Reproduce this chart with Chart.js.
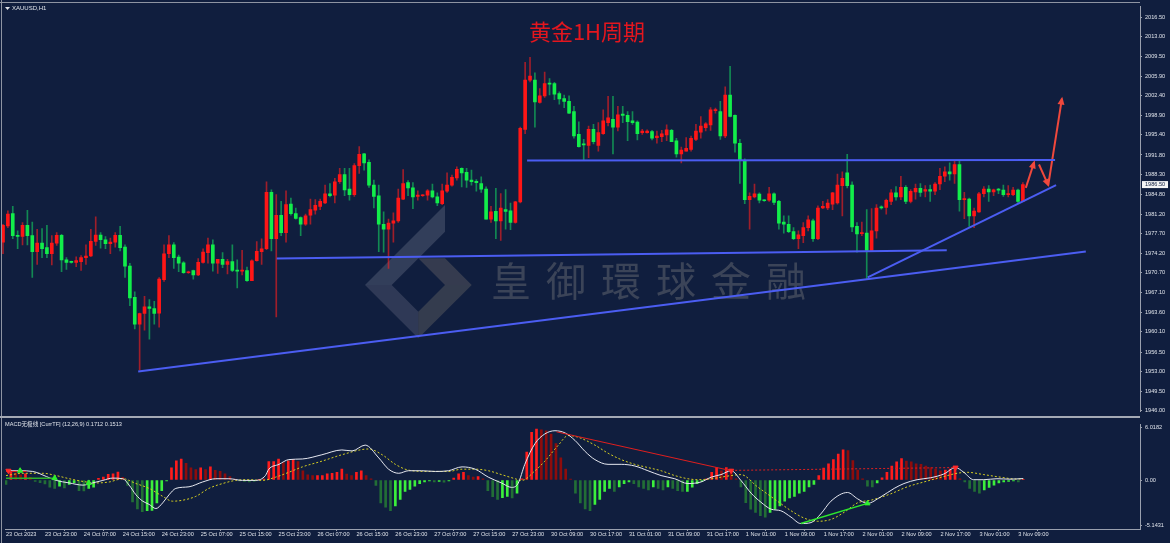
<!DOCTYPE html>
<html>
<head>
<meta charset="utf-8">
<script src="https://cdn.jsdelivr.net/npm/chart.js@4.4.1/dist/chart.umd.min.js"></script>
<style>
  html, body { margin: 0; padding: 0; background: #101e3e; }
  #wrap { position: relative; width: 1170px; height: 543px; overflow: hidden; background: #101e3e; }
  #price { position: absolute; left: 0; top: 0; }
  #macd { position: absolute; left: 0; top: 418px; }
</style>
</head>
<body>
<div id="wrap">
  <canvas id="price" width="1170" height="418"></canvas>
  <canvas id="macd" width="1170" height="125"></canvas>
</div>
<script>
window.addEventListener("load", init);

const BG = "#101e3e";
const AXIS = "#9aa0ae";
const TEXT = "#dfe3ea";
const FONT = '"Liberation Sans", Arial, "Noto Sans CJK SC", sans-serif';
const BLUE = "#4b5df2";
const ARROW_RED = "#f0483c";

//x range in bars (bar 0 sits at the left edge, empty space on the right)
const X_MIN = -0.205;
const X_MAX = 233.0;

//price axis as MT4 prints it
const priceTicks = [2016.50, 2013.00, 2009.50, 2005.90, 2002.40, 1998.90, 1995.40, 1991.80, 1988.30, 1984.80,
  1981.20, 1977.70, 1974.20, 1970.70, 1967.10, 1963.60, 1960.10, 1956.50, 1953.00, 1949.50, 1946.00];
const macdTicks = [6.0182, 0, -5.1431];

//time axis: a label every 8 hourly bars
const timeTickBars = [0, 8, 16, 24, 32, 40, 48, 56, 64, 72, 80, 88, 96, 104, 112, 120, 128, 136, 144, 152, 160, 168, 176, 184, 192, 200, 208];
const timeLabels = ["23 Oct 2023", "23 Oct 23:00", "24 Oct 07:00", "24 Oct 15:00", "24 Oct 23:00", "25 Oct 07:00",
  "25 Oct 15:00", "25 Oct 23:00", "26 Oct 07:00", "26 Oct 15:00", "26 Oct 23:00", "27 Oct 07:00", "27 Oct 15:00",
  "27 Oct 23:00", "30 Oct 09:00", "30 Oct 17:00", "31 Oct 01:00", "31 Oct 09:00", "31 Oct 17:00", "1 Nov 01:00",
  "1 Nov 09:00", "1 Nov 17:00", "2 Nov 01:00", "2 Nov 09:00", "2 Nov 17:00", "3 Nov 01:00", "3 Nov 09:00"];

//XAUUSD H1 candles
const opens = [
  1976.2, 1979.1, 1981.3, 1977.4, 1977.2, 1979.2, 1977.35, 1974.5, 1976.0, 1975.2,
  1974.1, 1976.0, 1977.4, 1973.0, 1972.7, 1972.55, 1972.7, 1973.4, 1973.7, 1976.3,
  1977.45, 1976.6, 1975.9, 1976.2, 1977.4, 1975.3, 1971.9, 1966.3, 1961.5, 1963.4,
  1964.6, 1964.3, 1963.45, 1969.45, 1974.1, 1975.7, 1973.5, 1972.5, 1970.7, 1971.1,
  1970.3, 1972.55, 1974.3, 1975.7, 1972.4, 1973.1, 1972.2, 1972.7, 1971.1, 1971.0,
  1971.1, 1969.3, 1972.85, 1974.5, 1975.0, 1985.1, 1976.8, 1981.0, 1977.9, 1983.0,
  1981.3, 1980.6, 1979.4, 1981.0, 1981.9, 1982.6, 1983.2, 1984.85, 1984.6, 1987.0,
  1988.3, 1985.7, 1984.7, 1989.9, 1992.0, 1990.5, 1986.4, 1984.5, 1979.4, 1978.5,
  1979.6, 1980.0, 1983.9, 1986.85, 1985.9, 1984.4, 1984.5, 1984.6, 1985.4, 1984.3,
  1983.1, 1985.3, 1986.4, 1987.7, 1989.4, 1988.7, 1987.3, 1987.1, 1986.7, 1985.7,
  1980.3, 1981.7, 1980.0, 1982.0, 1981.8, 1979.7, 1983.4, 1996.4, 2005.2, 2005.2,
  2001.2, 2002.4, 2004.6, 2004.6, 2002.8, 2001.9, 2001.4, 1999.6, 1995.5, 1993.7,
  1993.5, 1996.4, 1993.5, 1995.6, 1997.6, 1998.2, 1996.8, 1999.15, 1998.9, 1997.9,
  1997.7, 1995.8, 1995.8, 1996.0, 1994.9, 1995.1, 1995.4, 1996.2, 1994.35, 1992.0,
  1992.5, 1992.8, 1994.6, 1995.9, 1996.7, 1997.2, 1999.75, 1999.6, 1995.2, 2002.55,
  1998.9, 1993.9, 1990.8, 1983.8, 1984.3, 1984.8, 1983.75, 1983.7, 1984.85, 1983.5,
  1979.8, 1979.4, 1978.1, 1976.8, 1977.35, 1978.8, 1980.0, 1976.8, 1982.3, 1982.3,
  1983.0, 1983.2, 1986.3, 1988.6, 1986.4, 1979.0, 1977.7, 1977.8, 1974.7, 1978.2,
  1982.5, 1982.4, 1983.5, 1985.0, 1984.3, 1986.0, 1983.5, 1985.2, 1985.85, 1985.3,
  1985.6, 1985.3, 1986.6, 1988.0, 1988.8, 1988.4, 1990.1, 1983.8, 1983.9, 1980.9,
  1981.6, 1984.85, 1985.7, 1985.2, 1985.6, 1985.5, 1984.7, 1984.7, 1985.5, 1983.5
];
const highs = [
  1979.4, 1981.8, 1982.6, 1978.2, 1979.7, 1981.9, 1979.8, 1978.5, 1978.6, 1979.2,
  1977.35, 1977.9, 1977.6, 1973.4, 1972.8, 1973.55, 1973.8, 1975.7, 1978.5, 1980.7,
  1977.9, 1977.2, 1976.9, 1977.9, 1979.0, 1975.7, 1972.4, 1967.3, 1963.5, 1966.5,
  1965.9, 1965.6, 1969.85, 1975.7, 1977.35, 1976.1, 1973.85, 1972.7, 1971.0, 1971.2,
  1973.25, 1975.0, 1976.9, 1976.6, 1973.1, 1974.3, 1973.1, 1975.7, 1973.0, 1974.7,
  1971.7, 1973.0, 1976.3, 1976.8, 1987.0, 1985.55, 1984.7, 1983.5, 1985.4, 1984.1,
  1982.3, 1980.7, 1981.2, 1983.9, 1983.8, 1983.9, 1986.4, 1986.7, 1987.6, 1989.4,
  1989.4, 1989.4, 1990.25, 1993.3, 1992.1, 1990.95, 1987.3, 1986.4, 1981.6, 1980.3,
  1981.45, 1985.7, 1989.2, 1987.2, 1986.85, 1985.4, 1984.7, 1985.6, 1986.6, 1985.0,
  1986.6, 1988.6, 1988.2, 1989.7, 1989.5, 1989.4, 1989.1, 1987.4, 1987.9, 1986.1,
  1982.6, 1985.85, 1984.9, 1985.6, 1983.2, 1983.5, 1996.8, 2008.4, 2009.3, 2006.5,
  2003.7, 2006.65, 2005.5, 2004.8, 2003.1, 2002.55, 2002.4, 2000.5, 1997.75, 1994.6,
  1997.0, 1997.3, 1997.6, 1999.9, 2002.3, 2002.3, 2000.5, 2000.5, 1999.6, 1999.6,
  1997.9, 1996.4, 1996.3, 1996.2, 1996.1, 1996.2, 1997.2, 1996.4, 1994.8, 1993.2,
  1994.9, 1995.2, 1997.3, 1998.7, 1997.6, 2000.3, 2000.2, 2001.4, 2004.0, 2007.7,
  1999.0, 1994.6, 1991.1, 1985.0, 1986.6, 1985.0, 1983.8, 1986.0, 1985.0, 1983.7,
  1980.9, 1980.9, 1978.8, 1978.2, 1979.7, 1980.9, 1980.3, 1982.7, 1983.5, 1983.8,
  1985.1, 1988.4, 1988.8, 1991.9, 1987.0, 1979.7, 1979.8, 1982.0, 1982.2, 1982.9,
  1982.7, 1983.9, 1985.6, 1986.15, 1988.0, 1986.3, 1985.6, 1986.6, 1986.7, 1986.3,
  1986.4, 1986.85, 1989.4, 1989.7, 1990.4, 1990.7, 1990.7, 1985.1, 1984.1, 1982.3,
  1985.1, 1986.15, 1986.3, 1985.7, 1985.85, 1986.4, 1986.3, 1986.0, 1985.7, 1986.85
];
const lows = [
  1974.1, 1978.8, 1976.8, 1975.0, 1975.7, 1975.7, 1969.85, 1972.2, 1973.4, 1973.4,
  1972.1, 1975.6, 1970.9, 1971.3, 1972.4, 1971.8, 1971.1, 1972.2, 1973.6, 1975.6,
  1975.1, 1975.0, 1974.1, 1975.3, 1974.6, 1969.85, 1964.8, 1960.65, 1953.3, 1960.4,
  1958.8, 1961.5, 1960.95, 1969.15, 1973.4, 1971.5, 1970.9, 1970.6, 1970.6, 1969.55,
  1970.2, 1972.4, 1972.4, 1971.0, 1970.6, 1971.6, 1970.5, 1970.9, 1968.0, 1970.3,
  1969.15, 1969.3, 1972.8, 1972.2, 1974.85, 1974.6, 1962.8, 1977.35, 1976.2, 1981.0,
  1980.3, 1977.35, 1979.2, 1979.4, 1981.2, 1982.0, 1983.1, 1984.3, 1983.2, 1986.7,
  1984.5, 1983.7, 1984.4, 1988.5, 1989.1, 1986.0, 1982.3, 1974.5, 1974.4, 1971.5,
  1976.2, 1979.7, 1983.8, 1984.5, 1982.2, 1983.7, 1984.4, 1983.7, 1984.1, 1982.7,
  1982.9, 1985.1, 1986.2, 1987.3, 1986.1, 1986.0, 1986.4, 1985.3, 1985.1, 1980.3,
  1979.7, 1976.8, 1976.5, 1978.5, 1978.4, 1979.6, 1983.2, 1995.6, 2004.9, 1996.8,
  2001.1, 2002.1, 2002.55, 2001.7, 2000.9, 2000.3, 1999.2, 1994.8, 1993.2, 1990.8,
  1991.3, 1993.8, 1992.5, 1995.5, 1997.0, 1992.0, 1996.1, 1997.6, 1994.35, 1997.3,
  1994.5, 1995.5, 1995.7, 1994.5, 1993.9, 1994.2, 1994.35, 1994.2, 1991.4, 1990.4,
  1992.5, 1992.5, 1994.35, 1994.8, 1996.1, 1996.2, 1999.3, 1994.6, 1994.9, 1998.6,
  1992.3, 1986.7, 1983.1, 1978.5, 1984.1, 1983.2, 1983.5, 1983.5, 1982.9, 1978.5,
  1977.8, 1977.9, 1976.65, 1975.0, 1976.1, 1978.2, 1976.3, 1976.65, 1982.2, 1982.0,
  1982.0, 1983.0, 1980.9, 1985.9, 1978.05, 1974.4, 1977.35, 1969.7, 1974.7, 1976.9,
  1982.1, 1981.2, 1982.9, 1983.7, 1983.8, 1983.1, 1983.2, 1983.9, 1984.4, 1984.3,
  1983.5, 1984.7, 1985.6, 1987.0, 1987.3, 1986.7, 1981.75, 1980.4, 1979.0, 1978.8,
  1981.5, 1984.3, 1983.5, 1984.5, 1984.85, 1984.4, 1984.3, 1984.5, 1983.2, 1983.5
];
const closes = [
  1979.2, 1981.2, 1977.35, 1977.2, 1979.2, 1977.35, 1974.5, 1976.0, 1975.0, 1974.1,
  1976.0, 1977.4, 1973.0, 1972.55, 1972.55, 1972.9, 1973.4, 1973.7, 1976.35, 1977.45,
  1976.65, 1975.9, 1976.2, 1977.4, 1975.2, 1971.9, 1966.2, 1961.5, 1963.4, 1964.6,
  1964.3, 1963.4, 1969.55, 1974.1, 1975.7, 1973.4, 1972.4, 1970.7, 1970.85, 1970.3,
  1972.55, 1974.4, 1975.7, 1972.4, 1973.1, 1972.2, 1972.7, 1971.1, 1971.0, 1971.2,
  1969.3, 1972.85, 1974.55, 1975.0, 1985.1, 1976.8, 1981.0, 1977.9, 1982.9, 1981.3,
  1980.45, 1979.4, 1980.9, 1982.0, 1982.8, 1983.5, 1984.85, 1984.5, 1987.0, 1988.3,
  1985.55, 1984.7, 1989.9, 1991.9, 1990.4, 1986.4, 1984.4, 1979.4, 1978.5, 1979.6,
  1980.0, 1984.1, 1986.7, 1985.9, 1984.3, 1984.6, 1984.6, 1985.4, 1984.3, 1983.2,
  1985.4, 1986.4, 1987.8, 1989.25, 1988.6, 1987.3, 1987.0, 1986.85, 1985.7, 1980.3,
  1981.6, 1980.0, 1982.3, 1981.7, 1979.7, 1983.4, 1996.6, 2005.2, 2005.95, 2001.3,
  2002.4, 2004.6, 2004.5, 2002.7, 2001.85, 2001.4, 1999.3, 1995.2, 1993.3, 1993.6,
  1996.4, 1994.2, 1995.8, 1997.9, 1998.45, 1996.8, 1999.0, 1998.9, 1997.75, 1997.6,
  1995.6, 1996.1, 1996.1, 1994.8, 1995.2, 1995.6, 1996.3, 1994.2, 1992.0, 1992.7,
  1993.0, 1994.8, 1996.1, 1997.0, 1997.4, 1999.9, 1999.9, 1995.2, 2002.55, 1998.7,
  1993.9, 1990.8, 1983.8, 1984.4, 1984.85, 1983.7, 1983.6, 1984.85, 1983.3, 1979.6,
  1979.4, 1978.05, 1976.8, 1977.5, 1978.8, 1980.2, 1976.8, 1982.3, 1982.6, 1983.2,
  1985.0, 1986.4, 1987.6, 1986.3, 1978.9, 1977.65, 1977.8, 1974.7, 1978.2, 1982.3,
  1982.3, 1983.7, 1985.0, 1984.3, 1986.0, 1983.5, 1985.3, 1985.85, 1985.1, 1985.6,
  1985.3, 1986.6, 1988.0, 1988.8, 1988.4, 1990.1, 1983.8, 1983.9, 1980.9, 1981.75,
  1984.85, 1985.7, 1985.2, 1985.55, 1985.5, 1984.7, 1984.85, 1985.5, 1983.5, 1986.5
];

//MACD histogram, one value per bar
const macdHist = [
  -0.5, 0.9, 0.8, 0.6, 0.7, 0.3, -0.15, -0.3, -0.45, -0.8,
  -0.95, -0.7, -0.9, -0.5, -0.3, -1.2, -1.25, -0.95, -0.8, 0.2,
  0.35, 0.65, 0.7, 0.9, 0.3, -0.6, -2.5, -3.3, -3.6, -3.5,
  -3.45, -2.6, -1.2, -0.1, 1.4, 2.2, 2.4, 1.9, 1.4, 1.2,
  1.4, 1.2, 1.5, 1.1, 1.0, 0.7, 0.4, 0.1, -0.1, -0.15,
  -0.2, -0.1, 0.05, 0.1, 2.1, 2.1, 2.4, 2.0, 2.2, 2.3,
  2.1, 1.06, 0.6, 0.5, 0.5, 0.5, 0.7, 0.77, 0.88, 1.24,
  0.69, 0.5, 0.88, 1.06, 0.5, 0.15, -0.6, -2.6, -3.1, -3.5,
  -2.95, -2.2, -1.3, -1.06, -0.7, -0.4, -0.22, -0.1, -0.2, -0.15,
  -0.25, -0.1, 0.22, 0.7, 0.88, 0.5, 0.33, 0.4, 0.15, -1.2,
  -1.9, -2.2, -2.0, -1.86, -2.04, -1.5, 0.15, 3.2, 5.43, 5.8,
  5.73, 5.6, 5.25, 4.16, 2.52, 1.24, 0.1, -1.5, -2.6, -3.3,
  -3.5, -2.77, -2.22, -1.31, -0.95, -1.31, -0.77, -0.4, -0.22, -0.4,
  -0.77, -0.95, -1.13, -0.77, -0.95, -1.13, -0.77, -0.95, -1.2, -1.31,
  -1.31, -0.8, -0.4, -0.15, 0.15, 0.88, 1.42, 1.06, 1.42, 1.24,
  0.15, -0.77, -2.59, -3.32, -3.68, -4.05, -4.23, -3.68, -3.32, -2.95,
  -2.41, -2.04, -1.86, -1.5, -1.31, -0.77, -0.51, 0.51, 1.35, 1.86,
  2.33, 2.95, 3.43, 3.36, 2.22, 1.13, 0.15, -0.69, -0.77, -0.33,
  0.26, 0.88, 1.6, 2.08, 2.44, 2.15, 2.08, 1.86, 1.79, 1.6,
  1.42, 1.24, 1.06, 1.13, 1.24, 1.5, 0.15, -0.2, -0.95, -1.31,
  -1.5, -1.13, -0.84, -0.58, -0.33, -0.22, -0.15, -0.1, -0.22, 0.04
];

//MACD line (white), read at these bars
const macdLineBar = [0, 2.8, 5.5, 8.3, 10.3, 13, 15.8, 17.8, 19.9, 21.9, 24, 25.3, 26.7, 28.1, 29.4, 30.8, 32.2, 33.5,
  34.9, 37.6, 40.4, 43.1, 45.8, 48.6, 51.3, 53.3, 54, 56.1, 58.1, 60.9, 64.9, 69, 71.1, 73.8, 76.6, 78.6, 80.7, 82.7,
  85.4, 88.2, 90.9, 93.7, 96.4, 99.1, 101.8, 103.9, 105.2, 106.6, 108.7, 110.7, 112.8, 114.9, 116.9, 119, 121, 123.7,
  126.4, 129.2, 131.9, 134.6, 137.4, 140.1, 142.8, 144.9, 146.9, 149, 151, 153.1, 155.1, 157.2, 159.2, 161.3, 163.3,
  165.4, 167.4, 169.5, 172.9, 175, 177, 179.7, 182.5, 184.5, 187.2, 190, 192.7, 195.1, 196.8, 198.8, 200.9, 203.6,
  206.3, 209];
const macdLineVal = [1.06, 1.06, 0.98, 0.4, -0.04, -0.33, -0.58, -0.33, -0.04, 0.22, 0.15, -0.58, -1.68, -2.41, -2.77,
  -3.25, -2.6, -1.68, -0.95, -0.77, -0.22, 0.15, 0.15, -0.04, -0.04, 0.51, 1.24, 1.79, 2.33, 2.4, 2.88, 3.43, 3.32, 3.98,
  2.52, 1.24, 0.77, 1.06, 1.06, 0.98, 1.06, 1.5, 1.24, 0.33, -0.33, -0.84, -0.4, 1.79, 4.16, 5.25, 5.62, 5.36, 4.52, 3.25,
  2.33, 1.79, 1.79, 1.6, 1.06, 0.51, 0.15, -0.4, -0.22, 0.33, 0.62, 1.06, -0.04, -1.5, -2.52, -3.32, -3.5, -4.23, -4.96,
  -4.85, -3.87, -2.41, -1.42, -2.15, -2.66, -1.93, -0.95, -0.4, 0.04, 0.26, 0.69, 1.42, 0.88, 0.04, 0.04, 0.15, 0.1, 0.17];

//signal line (yellow dashed)
const signalBar = [0, 3.5, 7.6, 10.3, 13, 16.5, 18.5, 21.2, 24, 26.7, 29.4, 32.2, 34.2, 36.3, 39, 41.7, 44.5, 47.2, 49.9,
  52.7, 55.4, 58.1, 60.9, 64.9, 69, 74.5, 77.3, 80, 82.7, 86.8, 90.9, 93.7, 96.4, 99.1, 101.8, 104.6, 106, 108.7, 110.7,
  113.5, 115.5, 117.5, 121, 123.7, 126.4, 129.2, 131.9, 134.6, 137.4, 140.1, 142.1, 144.9, 149, 151, 154.4, 158.5, 161.3,
  164, 166.7, 169.5, 172.2, 175, 177.7, 181.8, 185.2, 188.6, 192.7, 195.4, 197.5, 200.9, 204.3, 207.7, 209];
const signalVal = [0.51, 0.77, 0.77, 0.51, 0.15, -0.22, -0.33, -0.22, 0.15, -0.4, -0.95, -1.86, -2.41, -2.3, -1.86, -0.95,
  -0.4, -0.04, 0.04, -0.04, 0.33, 0.88, 1.5, 2.15, 2.88, 3.54, 2.88, 1.79, 1.13, 0.98, 0.98, 1.24, 1.24, 1.06, 0.62, 0.15,
  -0.04, 1.06, 2.15, 3.98, 5.07, 4.89, 3.98, 3.06, 2.33, 1.79, 1.42, 1.06, 0.51, 0.15, 0.04, 0.15, 0.51, 0.62, -0.77,
  -2.41, -3.5, -4.34, -4.7, -4.49, -3.68, -2.59, -2.3, -1.57, -0.77, -0.22, 0.4, 0.77, 0.88, 0.62, 0.33, 0.11, 0.15];

//drawn objects on the price window: [bar, price]
const resistLine = [[107.4, 1990.8], [215.6, 1990.9]];
const midLine = [[56.1, 1973.25], [193.4, 1974.75]];
const longSupport = [[27.7, 1953.03], [221.9, 1974.5]];
const shortSupport = [[177.2, 1969.86], [215.8, 1986.4]];
const arrowUp1 = [[209.6, 1985.9], [211.3, 1990.5]];
const arrowDown = [[212.3, 1990.1], [214.2, 1986.4]];
const arrowUp2 = [[214.2, 1986.4], [217.0, 2001.9]];

//divergence marks on the MACD window: [bar, value]
const divRed = [[113.1, 5.5], [149, 1.06]];
const divRedDotted = [[149, 1.1], [195.1, 1.42]];
const divGreen = [[163.3, -4.96], [177, -2.66]];
const divRedLeft = [[0, 0.98], [4.2, 0.98]];
const divGreenLeft = [[0, 0.2], [10, 0.2]];
const sellMarks = [[0.5, 1.06], [149, 1.06], [195.1, 1.42]];
const buyMarks = [[2.9, 1.06], [10, 0.22], [17, -0.33], [177, -2.66]];

let priceChart, macdChart;
let barIdx = closes.map((c, i) => i);

function init(){
  Chart.defaults.font.family = FONT;
  priceChart = new Chart(document.querySelector("#price"), priceConfig());
  macdChart = new Chart(document.querySelector("#macd"), macdConfig());
}

function pts(pairs){
  return pairs.map(p => ({x: p[0], y: p[1]}));
}

function isUp(i){
  return closes[i] >= opens[i];
}

function lineSet(pairs, color, extra){
  return Object.assign({
    type: "line",
    order: 1,
    data: pts(pairs),
    borderColor: color,
    borderWidth: 2,
    pointRadius: 0,
    fill: false
  }, extra || {});
}

function yAxis(min, max, ticks, fmt){
  return {
    position: "right",
    min: min,
    max: max,
    afterFit: s => { s.width = 30; },
    afterBuildTicks: s => { s.ticks = ticks.map(v => ({value: v})); },
    ticks: {
      autoSkip: false,
      color: TEXT,
      padding: 3,
      font: {size: 5.6},
      callback: fmt
    },
    grid: {drawOnChartArea: false, tickLength: 2, color: AXIS},
    border: {color: AXIS}
  };
}

function priceConfig(){
  return {
    type: "bar",
    data: {
      datasets: [
        {
          order: 3,
          grouped: false,
          barThickness: 1,
          data: barIdx.map(i => ({x: i, y: [lows[i], highs[i]]})),
          backgroundColor: barIdx.map(i => isUp(i) ? "rgba(255,30,30,0.6)" : "rgba(20,225,100,0.55)")
        },
        {
          order: 2,
          grouped: false,
          barThickness: 3,
          minBarLength: 1,
          data: barIdx.map(i => ({x: i, y: [opens[i], closes[i]]})),
          backgroundColor: barIdx.map(i => isUp(i) ? "#ff1616" : "#12ee4a")
        },
        lineSet(resistLine, BLUE),
        lineSet(midLine, BLUE),
        lineSet(longSupport, BLUE),
        lineSet(shortSupport, BLUE),
        lineSet(arrowUp1, ARROW_RED, {arrowHead: true}),
        lineSet(arrowDown, ARROW_RED, {arrowHead: true}),
        lineSet(arrowUp2, ARROW_RED, {arrowHead: true})
      ]
    },
    options: {
      responsive: false,
      animation: false,
      devicePixelRatio: 1,
      layout: {padding: {left: 2, top: 3, right: 0, bottom: 2}},
      plugins: {legend: {display: false}, tooltip: {enabled: false}},
      scales: {
        x: {type: "linear", min: X_MIN, max: X_MAX, offset: false, display: false},
        y: yAxis(1945.82, 2018.43, priceTicks, v => v.toFixed(2))
      }
    },
    plugins: [backgroundPlugin, watermarkPlugin, priceDecorPlugin]
  };
}

function histColor(i){
  let v = macdHist[i];
  let prev = i > 0 ? macdHist[i - 1] : 0;
  if(v >= 0) return v >= prev ? "#ff1c1c" : "#8e0c0c";
  return v >= prev ? "#3cf03c" : "#226e36";
}

function markSet(pairs, color, rotation){
  return {
    type: "line",
    order: 0,
    data: pts(pairs),
    showLine: false,
    pointStyle: "triangle",
    pointRadius: 3,
    pointRotation: rotation,
    pointBackgroundColor: color,
    pointBorderColor: color,
    pointBorderWidth: 1
  };
}

function macdConfig(){
  return {
    type: "bar",
    data: {
      datasets: [
        {
          order: 3,
          grouped: false,
          barThickness: 2,
          data: barIdx.map(i => ({x: i, y: macdHist[i]})),
          backgroundColor: barIdx.map(histColor)
        },
        {
          type: "line", order: 2,
          data: macdLineBar.map((b, k) => ({x: b, y: macdLineVal[k]})),
          borderColor: "#e6e8f0", borderWidth: 1, pointRadius: 0,
          cubicInterpolationMode: "monotone"
        },
        {
          type: "line", order: 2,
          data: signalBar.map((b, k) => ({x: b, y: signalVal[k]})),
          borderColor: "#d6cf22", borderWidth: 1, borderDash: [2, 2], pointRadius: 0,
          cubicInterpolationMode: "monotone"
        },
        lineSet(divRed, "#e01e1e", {borderWidth: 1}),
        lineSet(divRedDotted, "#e01e1e", {borderWidth: 1, borderDash: [2, 2]}),
        lineSet(divGreen, "#2ee82e", {borderWidth: 1.5}),
        lineSet(divRedLeft, "#e01e1e", {borderWidth: 1}),
        lineSet(divGreenLeft, "#2bb02b", {borderWidth: 1.5}),
        markSet(sellMarks, "#ff2a2a", 180),
        markSet(buyMarks, "#2ef02e", 0)
      ]
    },
    options: {
      responsive: false,
      animation: false,
      devicePixelRatio: 1,
      layout: {padding: {left: 2, top: 2, right: 0, bottom: 0}},
      plugins: {legend: {display: false}, tooltip: {enabled: false}},
      scales: {
        x: {
          type: "linear",
          min: X_MIN,
          max: X_MAX,
          offset: false,
          afterFit: s => { s.height = 14; },
          afterBuildTicks: s => { s.ticks = timeTickBars.map(v => ({value: v})); },
          ticks: {
            autoSkip: false,
            maxRotation: 0,
            minRotation: 0,
            align: "start",
            padding: 0,
            color: TEXT,
            font: {size: 5.6},
            callback: (v, i) => timeLabels[i]
          },
          grid: {drawOnChartArea: false, tickLength: 2, color: AXIS},
          border: {color: AXIS}
        },
        y: yAxis(-5.58, 6.346, macdTicks, v => v === 0 ? "0.00" : v.toFixed(4))
      }
    },
    plugins: [backgroundPlugin, macdDecorPlugin]
  };
}

const backgroundPlugin = {
  id: "bg",
  beforeDraw(chart){
    let ctx = chart.ctx;
    ctx.save();
    ctx.fillStyle = BG;
    ctx.fillRect(0, 0, chart.width, chart.height);
    ctx.restore();
  }
};

//company logo + name behind the candles
const watermarkPlugin = {
  id: "watermark",
  beforeDatasetsDraw(chart){
    let ctx = chart.ctx;
    ctx.save();
    let bands = [
      {c: "rgba(125,130,148,0.32)", p: [[445, 205], [445, 231.7], [391.7, 285], [365, 285]]},
      {c: "rgba(118,124,142,0.30)", p: [[365, 285], [391.7, 285], [418.3, 311.7], [418.3, 338.3]]},
      {c: "rgba(132,124,112,0.32)", p: [[418.3, 311.7], [418.3, 338.3], [471.7, 285], [445, 285]]},
      {c: "rgba(138,130,118,0.30)", p: [[418.3, 258.3], [445, 258.3], [471.7, 285], [445, 285]]}
    ];
    for(let b of bands){
      ctx.beginPath();
      b.p.forEach((q, k) => k ? ctx.lineTo(q[0], q[1]) : ctx.moveTo(q[0], q[1]));
      ctx.closePath();
      ctx.fillStyle = b.c;
      ctx.fill();
    }
    ctx.fillStyle = "rgba(125,125,128,0.40)";
    ctx.font = '40px "Noto Sans CJK TC", "Noto Sans CJK SC", sans-serif';
    ctx.textBaseline = "middle";
    ctx.textAlign = "left";
    let name = "皇御環球金融";
    for(let k = 0; k < name.length; k++){
      ctx.fillText(name[k], 491 + k * 55, 281);
    }
    ctx.restore();
  }
};

const priceDecorPlugin = {
  id: "priceDecor",
  afterDraw(chart){
    let ctx = chart.ctx;
    let area = chart.chartArea;
    ctx.save();
    //window frame
    ctx.fillStyle = "#8e94a2";
    ctx.fillRect(0, 2, area.right, 1);
    ctx.fillRect(1, 0, 1, chart.height);
    ctx.fillStyle = "#a4a9b4";
    ctx.fillRect(0, 416, area.right, 2);

    drawArrowHeads(chart);

    //symbol
    ctx.fillStyle = TEXT;
    ctx.beginPath();
    ctx.moveTo(5, 7); ctx.lineTo(10, 7); ctx.lineTo(7.5, 10);
    ctx.closePath();
    ctx.fill();
    ctx.font = "6px " + FONT;
    ctx.textBaseline = "middle";
    ctx.fillText("XAUUSD,H1", 12, 8.5);

    //title
    ctx.fillStyle = "#e4161e";
    ctx.font = '22px "Noto Sans CJK SC", sans-serif';
    ctx.textAlign = "center";
    ctx.fillText("黄金1H周期", 587, 32);

    //current price box
    let last = closes[closes.length - 1];
    let y = chart.scales.y.getPixelForValue(last);
    ctx.fillStyle = "#f4f4f4";
    ctx.fillRect(area.right + 2, y - 3.5, 26, 7);
    ctx.fillStyle = BG;
    ctx.font = "5.6px " + FONT;
    ctx.textAlign = "left";
    ctx.fillText(last.toFixed(2), area.right + 5, y + 0.3);
    ctx.restore();
  }
};

function drawArrowHeads(chart){
  let ctx = chart.ctx;
  chart.data.datasets.forEach((ds, k) => {
    if(!ds.arrowHead) return;
    let els = chart.getDatasetMeta(k).data;
    let a = els[els.length - 2], b = els[els.length - 1];
    let ang = Math.atan2(b.y - a.y, b.x - a.x);
    ctx.save();
    ctx.translate(b.x, b.y);
    ctx.rotate(ang);
    ctx.beginPath();
    ctx.moveTo(2, 0);
    ctx.lineTo(-6, -3.5);
    ctx.lineTo(-6, 3.5);
    ctx.closePath();
    ctx.fillStyle = ds.borderColor;
    ctx.fill();
    ctx.restore();
  });
}

const macdDecorPlugin = {
  id: "macdDecor",
  afterDraw(chart){
    let ctx = chart.ctx;
    ctx.save();
    ctx.fillStyle = "#8e94a2";
    ctx.fillRect(1, 0, 1, chart.height);
    ctx.fillStyle = TEXT;
    ctx.font = '5.6px "Liberation Sans", "Noto Sans CJK SC", sans-serif';
    ctx.textBaseline = "middle";
    ctx.fillText("MACD无极线 [CurrTF] (12,26,9) 0.1712 0.1513", 5, 6.5);
    ctx.restore();
  }
};
</script>
</body>
</html>
